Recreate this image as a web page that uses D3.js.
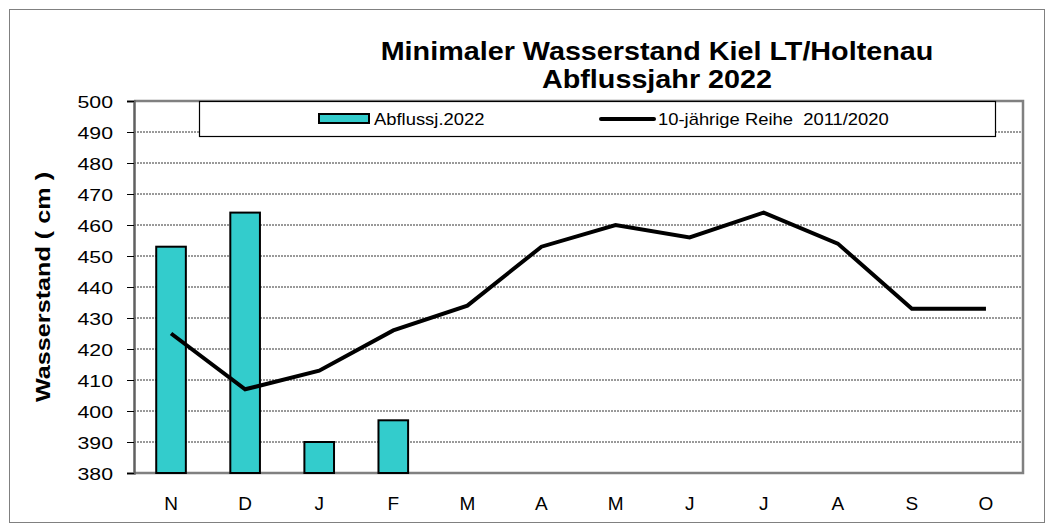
<!DOCTYPE html>
<meta charset="utf-8">
<style>
body { margin: 0; background: #fff; font-family: Arial, "Liberation Sans", sans-serif; }
.grid line { stroke: #000; stroke-width: 0.8; stroke-dasharray: 2,1; }
.tick text { fill: #000; }
</style>
<body>
<script src="https://d3js.org/d3.v7.min.js"></script>
<script>

// months of the Abflussjahr
var months = ["N", "D", "J", "F", "M", "A", "M", "J", "J", "A", "S", "O"];
// Abflussj.2022 (only Nov - Feb available)
var bars2022 = [453, 464, 390, 397, null, null, null, null, null, null, null, null];
// 10-jaehrige Reihe 2011/2020
var reihe = [425, 407, 413, 426, 434, 453, 460, 456, 464, 454, 433, 433];
var yTicks = [380, 390, 400, 410, 420, 430, 440, 450, 460, 470, 480, 490, 500];

var W = 1054, H = 532;
var margin = {top: 101, right: 31, bottom: 59, left: 134},
    width = W - margin.left - margin.right,
    height = H - margin.top - margin.bottom;

// the original font runs a bit wider than Liberation, so stretch texts horizontally
function stretch(sel, k) {
  sel.each(function() {
    var t = d3.select(this);
    var x0 = +t.attr("x") || 0;
    t.attr("x", x0 / k).attr("transform", "scale(" + k + ",1)");
  });
}

var svg = d3.select("body").append("svg")
    .attr("width", W)
    .attr("height", H);

// outer frame
svg.append("rect")
    .attr("x", 9.5).attr("y", 9.5)
    .attr("width", W - 19).attr("height", H - 19)
    .attr("fill", "none").attr("stroke", "#808080").attr("stroke-width", 1);

var g = svg.append("g")
    .attr("transform", "translate(" + margin.left + "," + margin.top + ")");

var x = d3.scaleBand()
    .domain(d3.range(months.length))
    .range([0, width]);
var y = d3.scaleLinear()
    .domain([380, 500])
    .range([height, 0]);

// grid
g.append("g")
    .attr("class", "grid")
    .selectAll("line")
    .data(yTicks.slice(1, -1))
    .enter().append("line")
    .attr("x1", 0).attr("x2", width)
    .attr("y1", function(d) { return y(d); })
    .attr("y2", function(d) { return y(d); });

// plot frame (top / right / bottom gray)
g.append("path")
    .attr("d", "M0,0H" + width + "V" + height + "H0")
    .attr("fill", "none").attr("stroke", "#808080").attr("stroke-width", 2.5);

// bars
g.selectAll(".bar")
    .data(bars2022.map(function(v, i) { return {i: i, v: v}; }).filter(function(d) { return d.v != null; }))
    .enter().append("rect")
    .attr("class", "bar")
    .attr("x", function(d) { return x(d.i) + x.bandwidth() * 0.3; })
    .attr("width", x.bandwidth() * 0.4)
    .attr("y", function(d) { return y(d.v); })
    .attr("height", function(d) { return height - y(d.v); })
    .attr("fill", "#33CCCC")
    .attr("stroke", "#000")
    .attr("stroke-width", 2);

// line
var line = d3.line()
    .x(function(d, i) { return x(i) + x.bandwidth() / 2; })
    .y(function(d) { return y(d); });
g.append("path")
    .datum(reihe)
    .attr("d", line)
    .attr("fill", "none")
    .attr("stroke", "#000")
    .attr("stroke-width", 4)
    .attr("stroke-linejoin", "miter");

// y axis
var yAxis = g.append("g")
    .call(d3.axisLeft(y).tickValues(yTicks).tickSize(7).tickPadding(14).tickFormat(d3.format("d")));
yAxis.select(".domain").attr("stroke", "#606060").attr("stroke-width", 2.5);
yAxis.selectAll(".tick line").attr("stroke", "#000");
yAxis.selectAll(".tick text").attr("dy", "0.36em").style("font-size", "17px");
stretch(yAxis.selectAll(".tick text"), 1.25);

// x axis
var xAxis = g.append("g")
    .attr("transform", "translate(0," + height + ")")
    .call(d3.axisBottom(x).tickFormat(function(i) { return months[i]; }).tickSize(0));
xAxis.select(".domain").remove();
xAxis.selectAll(".tick text").attr("y", 37).attr("dy", "0").style("font-size", "19px");

// axis title
svg.append("text")
    .attr("transform", "translate(50," + (margin.top + height / 2) + ") rotate(-90) scale(1.2,1)")
    .attr("text-anchor", "middle")
    .style("font-size", "21px")
    .style("font-weight", "bold")
    .text("Wasserstand ( cm )");

// chart title
var t1 = svg.append("text")
    .attr("x", 657).attr("y", 60)
    .attr("text-anchor", "middle")
    .style("font-size", "25px").style("font-weight", "bold")
    .text("Minimaler Wasserstand Kiel LT/Holtenau");
var t2 = svg.append("text")
    .attr("x", 657).attr("y", 88)
    .attr("text-anchor", "middle")
    .style("font-size", "25px").style("font-weight", "bold")
    .text("Abflussjahr 2022");
stretch(t1, 1.15);
stretch(t2, 1.15);

// legend
var lg = svg.append("g");
lg.append("rect")
    .attr("x", 199.5).attr("y", 101.5)
    .attr("width", 796).attr("height", 35)
    .attr("fill", "#fff").attr("stroke", "#000").attr("stroke-width", 1.2);
lg.append("rect")
    .attr("x", 319).attr("y", 114)
    .attr("width", 50).attr("height", 9)
    .attr("fill", "#33CCCC").attr("stroke", "#000").attr("stroke-width", 2);
var l1 = lg.append("text")
    .attr("x", 374).attr("y", 125)
    .style("font-size", "16px")
    .text("Abflussj.2022");
lg.append("line")
    .attr("x1", 601).attr("x2", 654)
    .attr("y1", 119).attr("y2", 119)
    .attr("stroke", "#000").attr("stroke-width", 4).attr("stroke-linecap", "round");
var l2 = lg.append("text")
    .attr("x", 658).attr("y", 125)
    .style("font-size", "16px")
    .attr("xml:space", "preserve")
    .text("10-jährige Reihe  2011/2020");
stretch(l1, 1.15);
stretch(l2, 1.15);

</script>
</body>
